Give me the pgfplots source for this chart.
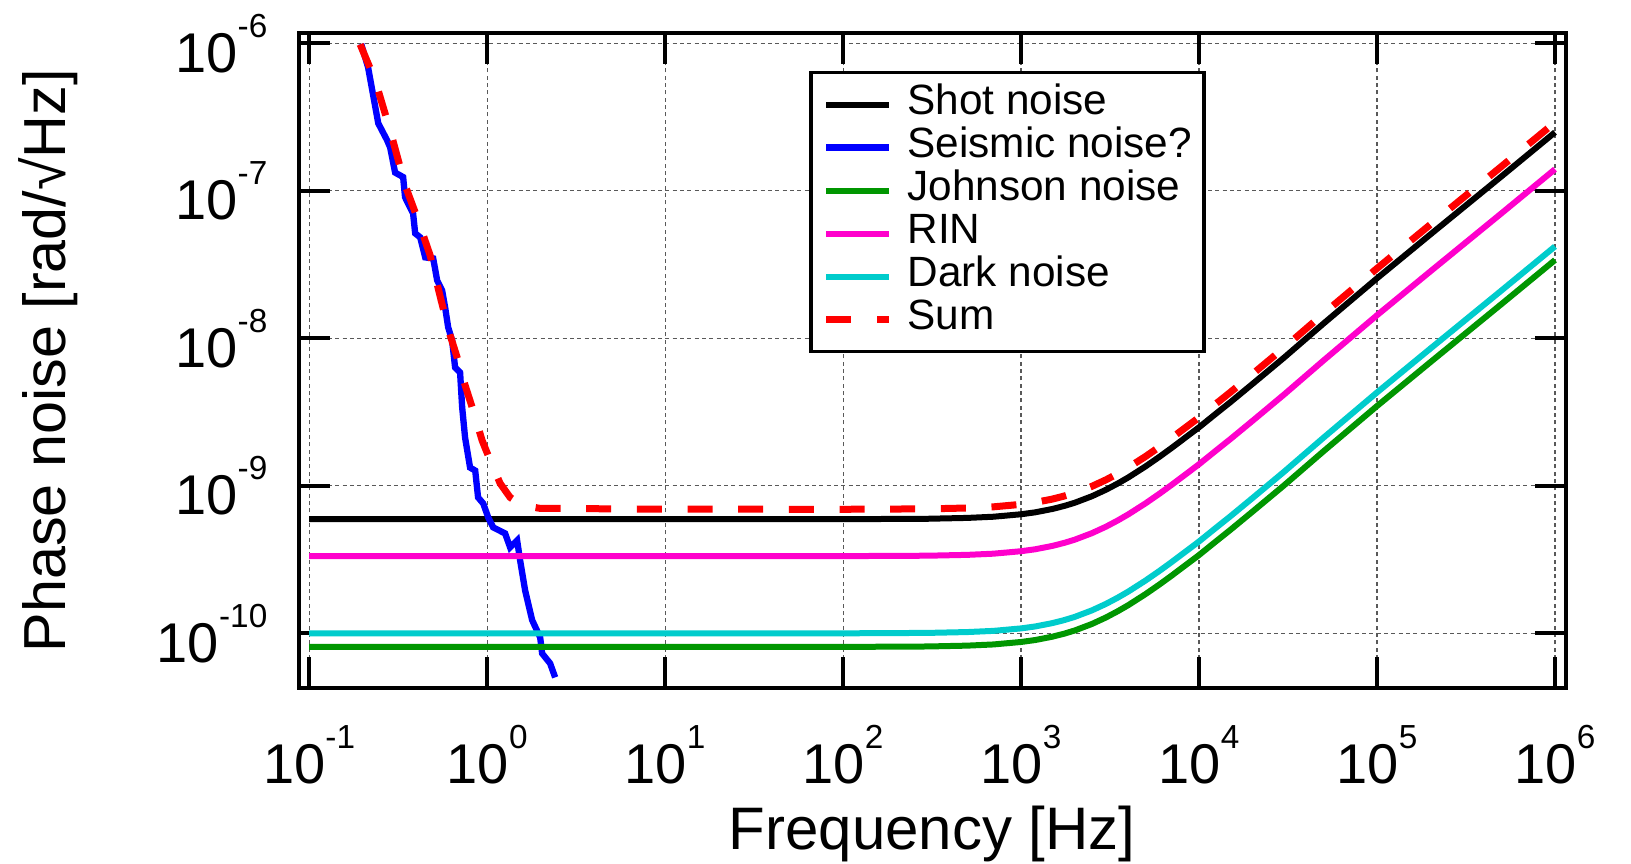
\documentclass[border=0pt]{standalone}
\usepackage{fontspec}
\setmainfont{Liberation Sans}
\usepackage{pgfplots}
\pgfplotsset{compat=1.18}
\definecolor{cgreen}{RGB}{0,150,0}
\definecolor{cmag}{RGB}{255,0,204}
\definecolor{ccyan}{RGB}{0,204,204}
\newcommand{\tp}[1]{10\raisebox{10.5pt}{\fontsize{10pt}{10pt}\selectfont#1}}
\begin{document}
\begin{tikzpicture}
\path[use as bounding box] (-89.6pt,-52.7pt) rectangle (399.7pt,206.5pt);
\begin{axis}[
  scale only axis, width=380.1pt, height=196.6pt,
  xmode=log, ymode=log,
  xmin=0.0873, xmax=1.148e6, ymin=4.24e-11, ymax=1.175e-6,
  xtick={0.1,1,10,100,1000,10000,100000,1000000},
  xticklabels={\tp{-1},\tp{0},\tp{1},\tp{2},\tp{3},\tp{4},\tp{5},\tp{6}},
  ytick={1e-10,1e-9,1e-8,1e-7,1e-6},
  yticklabels={\tp{-10},\tp{-9},\tp{-8},\tp{-7},\tp{-6}},
  xminorticks=false, yminorticks=false,
  tick align=inside, major tick length=9.3pt,
  every tick/.style={black, line width=1.2pt},
  axis line style={line width=1.2pt},
  grid=major,
  major grid style={dash pattern=on 1.2pt off 1pt, line width=0.35pt, color=black!65},
  tick label style={font=\fontsize{16.8pt}{18pt}\selectfont},
  xticklabel style={anchor=north, inner sep=0pt, yshift=-11pt},
  yticklabel style={anchor=east, inner sep=0pt, xshift=-9.2pt},
  every axis x label/.style={at={(axis description cs:0.5,0)}, anchor=base, yshift=-48.2pt, font=\fontsize{18pt}{20pt}\selectfont},
  every axis y label/.style={at={(axis description cs:-0.184,0.5)}, rotate=90, anchor=base, font=\fontsize{17.8pt}{20pt}\selectfont},
  xlabel={Frequency [Hz]},
  ylabel={Phase noise [rad/√Hz]},
  legend cell align=left,
  legend image code/.code={\draw[#1] (0pt,0pt) -- (18.9pt,0pt);},
  legend style={at={(axis description cs:0.403,0.942)}, anchor=north west,
    draw=black, line width=1pt, fill=white,
    inner xsep=3.6pt, inner ysep=4pt, row sep=1.8pt,
    nodes={inner sep=0pt, text height=8.6pt, text depth=2.5pt},
    font=\fontsize{12.7pt}{14pt}\selectfont,
    /tikz/every odd column/.append style={column sep=4.35pt}},
]
% Shot noise
\addplot[black, line width=1.8pt] coordinates {
(0.1,5.94e-10) (100,5.945e-10) (300,5.985e-10) (500,6.065e-10) (700,6.178e-10) (1000,6.421e-10) (1200,6.617e-10) (1500,6.974e-10) (1750,7.312e-10) (2000,7.680e-10) (2500,8.506e-10) (3000,9.415e-10) (3500,1.039e-9) (4000,1.140e-9) (5000,1.354e-9) (6000,1.577e-9) (7000,1.805e-9) (8500,2.153e-9) (10000,2.495e-9) (12500,3.101e-9) (15000,3.695e-9) (20000,4.918e-9) (30000,7.395e-9) (50000,1.259e-8) (100000,2.554e-8) (200000,5.079e-8) (500000,1.253e-7) (1000000,2.495e-7)};
\addlegendentry{Shot noise}
% Seismic noise
\addplot[blue, line width=1.9pt] coordinates {
(0.196,9.9e-7) (0.2143,6.88e-7) (0.2445,2.87e-7) (0.2742,2.20e-7) (0.2851,1.97e-7) (0.3041,1.33e-7) (0.3373,1.24e-7) (0.3459,9.04e-8) (0.3837,7.03e-8) (0.3942,5.15e-8) (0.4206,4.84e-8) (0.4487,3.54e-8) (0.4977,3.48e-8) (0.5239,2.47e-8) (0.5588,2.11e-8) (0.5808,1.62e-8) (0.6039,1.19e-8) (0.6357,9.69e-9) (0.6607,6.35e-9) (0.7047,5.88e-9) (0.7240,3.40e-9) (0.7516,2.13e-9) (0.8020,1.33e-9) (0.8570,1.27e-9) (0.8894,8.35e-10) (0.9506,7.60e-10) (1.014,6.11e-10) (1.082,5.23e-10) (1.262,4.76e-10) (1.346,3.83e-10) (1.474,4.27e-10) (1.532,3.13e-10) (1.634,1.96e-10) (1.790,1.23e-10) (1.986,9.39e-11) (2.037,7.31e-11) (2.259,6.26e-11) (2.411,5.03e-11)};
\addlegendentry{Seismic noise?}
% Johnson noise
\addplot[cgreen, line width=1.8pt] coordinates {
(0.1,8.09e-11) (100,8.096e-11) (300,8.151e-11) (500,8.260e-11) (700,8.414e-11) (1000,8.745e-11) (1200,9.012e-11) (1500,9.498e-11) (1750,9.959e-11) (2000,1.046e-10) (2500,1.158e-10) (3000,1.282e-10) (3500,1.415e-10) (4000,1.553e-10) (5000,1.845e-10) (6000,2.148e-10) (7000,2.458e-10) (8500,2.932e-10) (10000,3.398e-10) (12500,4.223e-10) (15000,5.032e-10) (20000,6.699e-10) (30000,1.007e-9) (50000,1.715e-9) (100000,3.479e-9) (200000,6.917e-9) (500000,1.707e-8) (1000000,3.398e-8)};
\addlegendentry{Johnson noise}
% RIN
\addplot[cmag, line width=1.8pt] coordinates {
(0.1,3.337e-10) (100,3.340e-10) (300,3.362e-10) (500,3.407e-10) (700,3.470e-10) (1000,3.607e-10) (1200,3.717e-10) (1500,3.918e-10) (1750,4.108e-10) (2000,4.315e-10) (2500,4.779e-10) (3000,5.289e-10) (3500,5.836e-10) (4000,6.407e-10) (5000,7.608e-10) (6000,8.860e-10) (7000,1.014e-9) (8500,1.209e-9) (10000,1.402e-9) (12500,1.742e-9) (15000,2.076e-9) (20000,2.763e-9) (30000,4.155e-9) (50000,7.074e-9) (100000,1.435e-8) (200000,2.853e-8) (500000,7.041e-8) (1000000,1.402e-7)};
\addlegendentry{RIN}
% Dark noise
\addplot[ccyan, line width=1.8pt] coordinates {
(0.1,1.0e-10) (100,1.0008e-10) (300,1.0075e-10) (500,1.021e-10) (700,1.040e-10) (1000,1.081e-10) (1200,1.114e-10) (1500,1.174e-10) (1750,1.231e-10) (2000,1.293e-10) (2500,1.432e-10) (3000,1.585e-10) (3500,1.749e-10) (4000,1.920e-10) (5000,2.280e-10) (6000,2.655e-10) (7000,3.038e-10) (8500,3.624e-10) (10000,4.20e-10) (12500,5.22e-10) (15000,6.22e-10) (20000,8.28e-10) (30000,1.245e-9) (50000,2.12e-9) (100000,4.30e-9) (200000,8.55e-9) (500000,2.11e-8) (1000000,4.20e-8)};
\addlegendentry{Dark noise}
% Sum
\addplot[red, line width=2.1pt, dash pattern=on 7.5pt off 7.7pt] coordinates {
(0.1934,9.84e-7) (0.2349,5.61e-7) (0.2851,2.57e-7) (0.3461,1.09e-7) (0.4097,6.31e-8) (0.4784,3.65e-8) (0.5514,1.81e-8) (0.6196,1.05e-8) (0.6783,7.43e-9) (0.7524,4.80e-9) (0.8344,3.25e-9) (0.9373,2.03e-9) (1.0396,1.49e-9) (1.183,1.04e-9) (1.346,8.35e-10) (1.573,7.38e-10) (1.985,7.04e-10) (10,6.95e-10) (100,6.939e-10) (300,6.985e-10) (500,7.079e-10) (700,7.210e-10) (1000,7.495e-10) (1200,7.723e-10) (1500,8.139e-10) (1750,8.535e-10) (2000,8.964e-10) (2500,9.928e-10) (3000,1.099e-9) (3500,1.213e-9) (4000,1.331e-9) (5000,1.581e-9) (6000,1.841e-9) (7000,2.106e-9) (8500,2.513e-9) (10000,2.912e-9) (12500,3.619e-9) (15000,4.312e-9) (20000,5.741e-9) (30000,8.632e-9) (50000,1.470e-8) (100000,2.981e-8) (200000,5.928e-8) (500000,1.463e-7) (1000000,2.912e-7)};
\addlegendentry{Sum}
\end{axis}
\end{tikzpicture}
\end{document}
